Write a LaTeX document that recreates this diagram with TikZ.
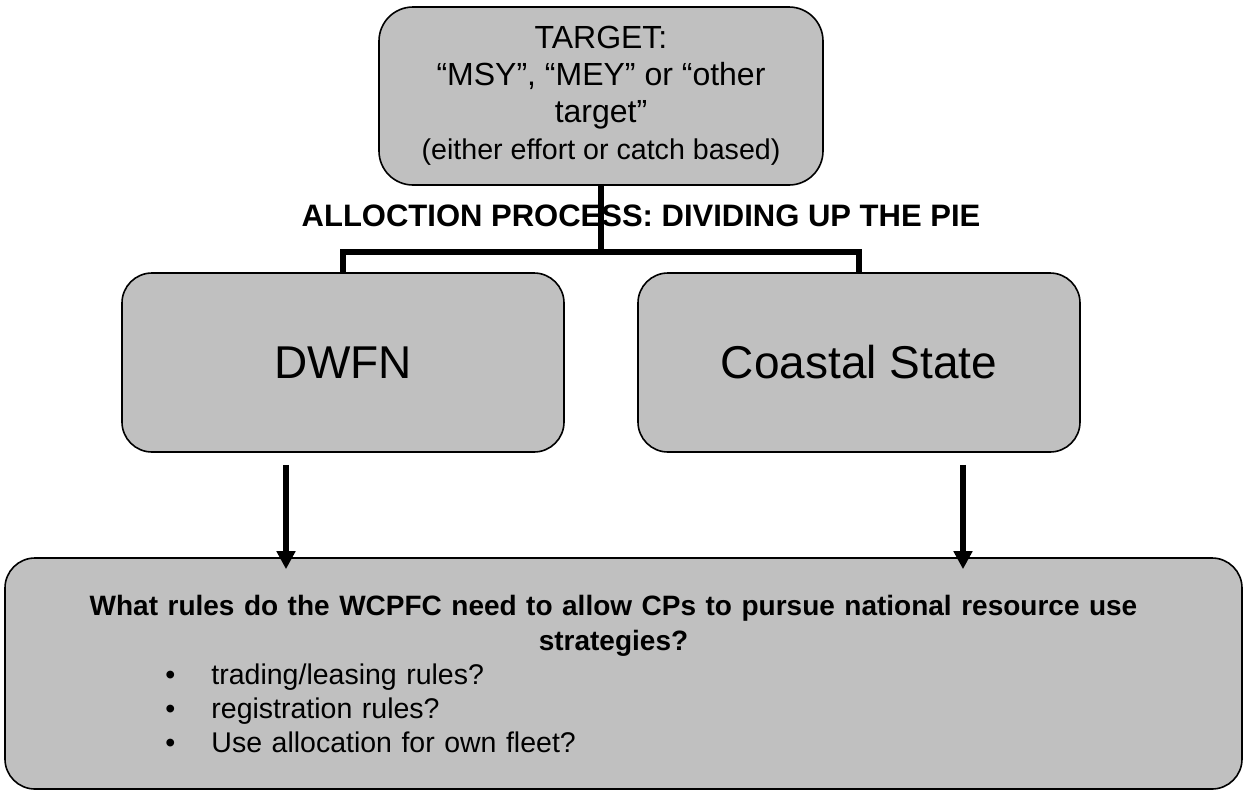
\documentclass[tikz,border=0pt]{standalone}
\usepackage{fontspec}
\setmainfont{Liberation Sans}
\usepackage{tikz}
\usetikzlibrary{arrows.meta}
\definecolor{boxgray}{RGB}{192, 192, 192}

\begin{document}
\begin{tikzpicture}[x=0.5pt, y=-0.5pt,
  box/.style={draw, line width=0.8pt, fill=boxgray, rounded corners=15pt,
    align=center, inner sep=0pt},
  tree/.style={line width=2.75pt},
  flow/.style={line width=2.75pt, -{Triangle[width=9pt, length=9pt]}}]
  \useasboundingbox (0,0) rectangle (1244,789);

  % ── Target box ────────────────────────────────────────────────────────────
  \node[box, rounded corners=17pt, minimum width=222pt, minimum height=89pt,
        font=\fontsize{16}{18.5}\selectfont] (target) at (601,96)
    {TARGET:\\ “MSY”, “MEY” or “other\\ target”\\
     {\fontsize{14.3}{16.5}\selectfont (either effort or catch based)}};

  % ── Heading ───────────────────────────────────────────────────────────────
  \node[font=\bfseries\fontsize{15.5}{18}\selectfont] (heading) at (641,216)
    {ALLOCTION PROCESS: DIVIDING UP THE PIE};

  % ── Two parties ───────────────────────────────────────────────────────────
  \node[box, minimum width=221pt, minimum height=89.5pt,
        font=\fontsize{23}{27}\selectfont] (dwfn) at (343,362.5) {DWFN};
  \node[box, minimum width=221pt, minimum height=89.5pt,
        font=\fontsize{23}{27}\selectfont] (coastal) at (859,362.5) {Coastal State};

  % ── Rules box ─────────────────────────────────────────────────────────────
  \node[box, minimum width=618.5pt, minimum height=115.5pt, text width=550pt,
        align=left, font=\fontsize{14.25}{17}\selectfont] (rules) at (623.5,673.5)
    {{\bfseries\fontsize{14}{17.5}\selectfont\centering What rules do the WCPFC
      need to allow CPs to pursue national resource use\hspace*{10pt}\mbox{}\\
      strategies?\hspace*{10pt}\mbox{}\par}
     \hspace*{46pt}\makebox[23pt][l]{\textbullet}trading/leasing rules?\\
     \hspace*{46pt}\makebox[23pt][l]{\textbullet}registration rules?\\
     \hspace*{46pt}\makebox[23pt][l]{\textbullet}Use allocation for own fleet?};

  % ── Split lines ───────────────────────────────────────────────────────────
  \coordinate (split) at (601,252);
  \draw[tree] (target.south) -- (split);
  \draw[tree] (dwfn.north) |- (split) -| (coastal.north);

  % ── Arrows down to rules ──────────────────────────────────────────────────
  \draw[flow] ([xshift=-28.5pt, yshift=-6pt]dwfn.south)
    -- ([xshift=-28.5pt, yshift=-6pt]dwfn.south |- rules.north);
  \draw[flow] ([xshift=52pt, yshift=-6pt]coastal.south)
    -- ([xshift=52pt, yshift=-6pt]coastal.south |- rules.north);
\end{tikzpicture}
\end{document}
